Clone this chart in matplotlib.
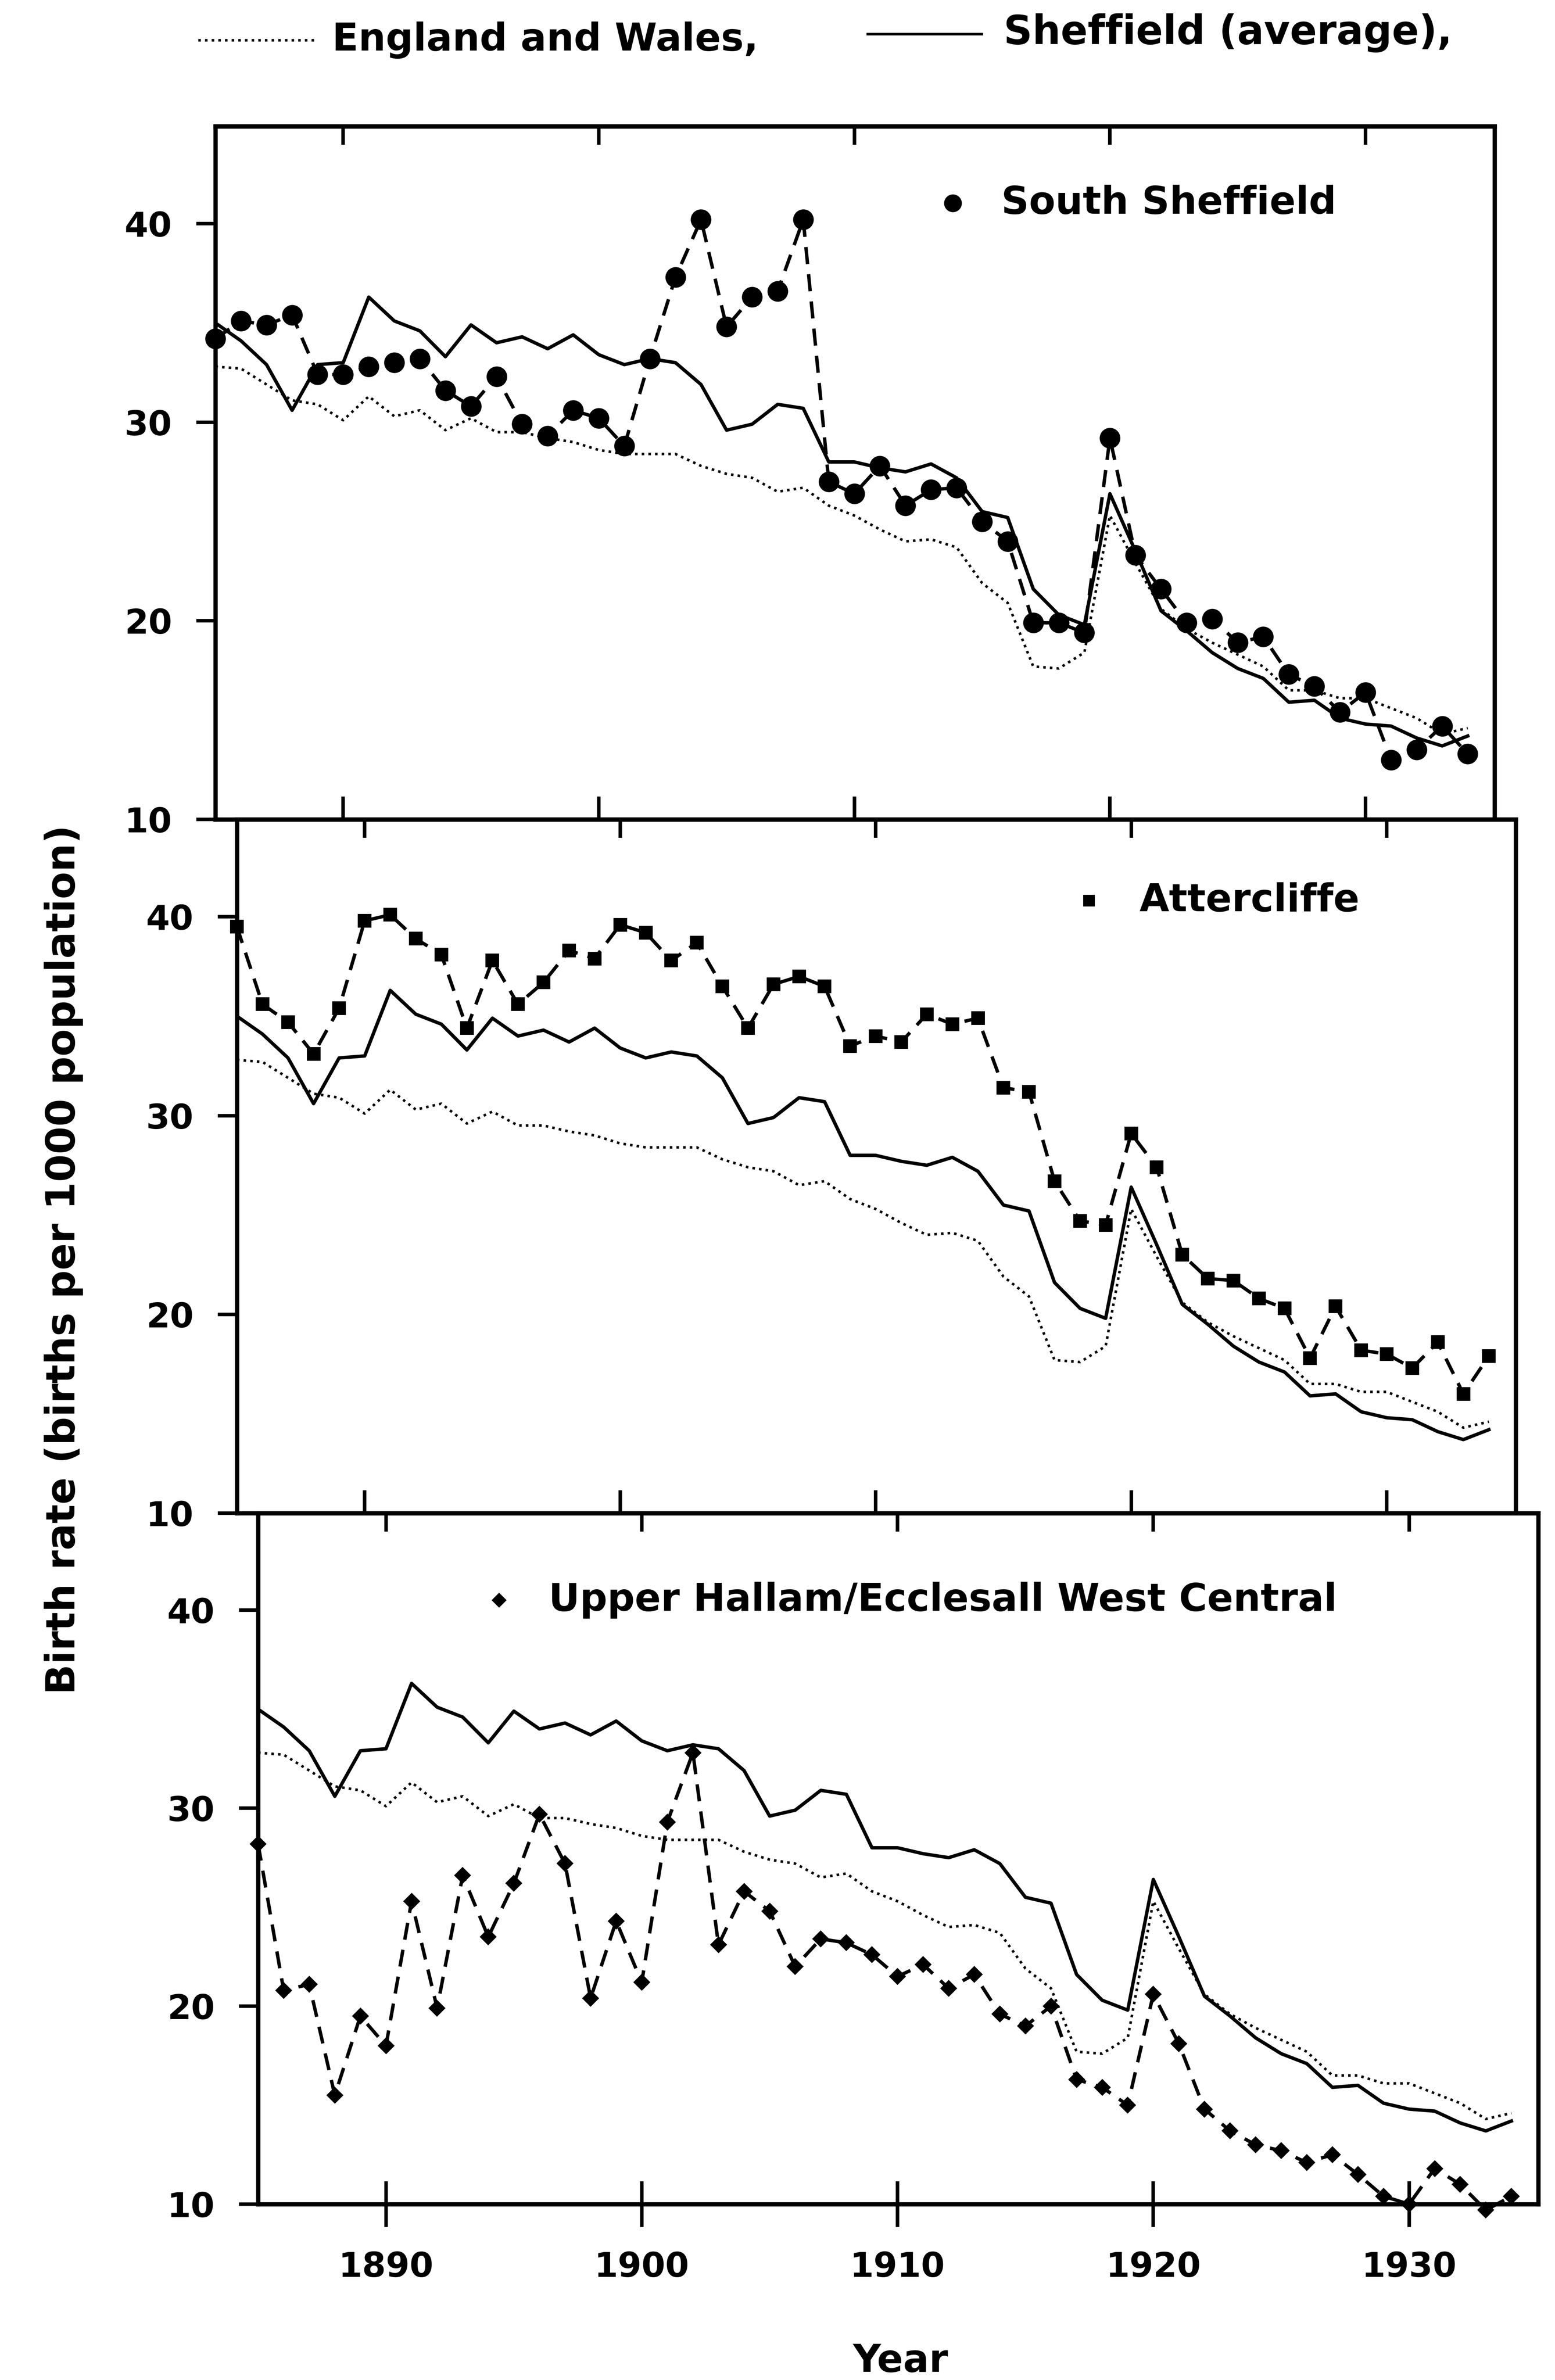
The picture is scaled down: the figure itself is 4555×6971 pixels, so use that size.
import numpy as np
import matplotlib.pyplot as plt
from matplotlib.lines import Line2D

plt.rcParams['font.family'] = 'DejaVu Sans'
plt.rcParams['font.weight'] = 'bold'

# birth rates per 1000 population, one value per year 1885..1934
years = np.arange(1885, 1935)

england_wales = [32.8, 32.7, 31.9, 31.1, 30.9, 30.1, 31.3, 30.3, 30.6, 29.6,
                 30.2, 29.5, 29.5, 29.2, 29.0, 28.6, 28.4, 28.4, 28.4, 27.8,
                 27.4, 27.2, 26.5, 26.7, 25.8, 25.3, 24.6, 24.0, 24.1, 23.7,
                 21.9, 20.9, 17.7, 17.6, 18.4, 25.3, 22.9, 20.6, 19.6, 18.9,
                 18.3, 17.7, 16.5, 16.5, 16.1, 16.1, 15.6, 15.1, 14.3, 14.6]

sheffield_avg = [35.0, 34.1, 32.9, 30.6, 32.9, 33.0, 36.3, 35.1, 34.6, 33.3,
                 34.9, 34.0, 34.3, 33.7, 34.4, 33.4, 32.9, 33.2, 33.0, 31.9,
                 29.6, 29.9, 30.9, 30.7, 28.0, 28.0, 27.7, 27.5, 27.9, 27.2,
                 25.5, 25.2, 21.6, 20.3, 19.8, 26.4, 23.5, 20.5, 19.5, 18.4,
                 17.6, 17.1, 15.9, 16.0, 15.1, 14.8, 14.7, 14.1, 13.7, 14.2]

south_sheffield = [34.2, 35.1, 34.9, 35.4, 32.4, 32.4, 32.8, 33.0, 33.2, 31.6,
                   30.8, 32.3, 29.9, 29.3, 30.6, 30.2, 28.8, 33.2, 37.3, 40.2,
                   34.8, 36.3, 36.6, 40.2, 27.0, 26.4, 27.8, 25.8, 26.6, 26.7,
                   25.0, 24.0, 19.9, 19.9, 19.4, 29.2, 23.3, 21.6, 19.9, 20.1,
                   18.9, 19.2, 17.3, 16.7, 15.4, 16.4, 13.0, 13.5, 14.7, 13.3]

attercliffe = [39.5, 35.6, 34.7, 33.1, 35.4, 39.8, 40.1, 38.9, 38.1, 34.4,
               37.8, 35.6, 36.7, 38.3, 37.9, 39.6, 39.2, 37.8, 38.7, 36.5,
               34.4, 36.6, 37.0, 36.5, 33.5, 34.0, 33.7, 35.1, 34.6, 34.9,
               31.4, 31.2, 26.7, 24.7, 24.5, 29.1, 27.4, 23.0, 21.8, 21.7,
               20.8, 20.3, 17.8, 20.4, 18.2, 18.0, 17.3, 18.6, 16.0, 17.9]

upper_hallam = [28.2, 20.8, 21.1, 15.5, 19.5, 18.0, 25.3, 19.9, 26.6, 23.5,
                26.2, 29.7, 27.2, 20.4, 24.3, 21.2, 29.3, 32.8, 23.1, 25.8,
                24.8, 22.0, 23.4, 23.2, 22.6, 21.5, 22.1, 20.9, 21.6, 19.6,
                19.0, 20.0, 16.3, 15.9, 15.0, 20.6, 18.1, 14.8, 13.7, 13.0,
                12.7, 12.1, 12.5, 11.5, 10.4, 10.0, 11.8, 11.0, 9.7, 10.4]

year_ticks = [1890, 1900, 1910, 1920, 1930]
rate_ticks = [10, 20, 30, 40]

W, H = 4555, 6971
fig = plt.figure(figsize=(W / 300, H / 300), dpi=300)


def box(left, top, right, bottom):
    # pixel edges -> figure fractions
    return [left / W, 1 - bottom / H, (right - left) / W, (bottom - top) / H]


panels = [
    (box(631, 370, 4378, 2400), south_sheffield, 'o', 13.5, 'South Sheffield', 0.5765, 0.889, 0.6144),
    (box(694, 2400, 4440, 4432), attercliffe, 's', 8.5, 'Attercliffe', 0.6663, 0.883, 0.7058),
    (box(756, 4432, 4506, 6456), upper_hallam, 'D', 7.5, 'Upper Hallam/Ecclesall West Central', 0.1883, 0.874, 0.2269),
]

for i, (pos, district, mk, ms, name, mx, my, tx) in enumerate(panels):
    ax = fig.add_axes(pos)
    ax.plot(years, england_wales, color='black', lw=1.8, dashes=(1, 1.6))
    ax.plot(years, sheffield_avg, color='black', lw=2.4)
    ax.plot(years, district, color='black', lw=2.4, dashes=(5, 3),
            marker=mk, ms=ms, mfc='black', mec='black', clip_on=False)

    ax.set_xlim(1885, 1935.05)
    ax.set_ylim(10, 44.9)
    ax.set_xticks(year_ticks)
    ax.set_yticks(rate_ticks)
    for s in ax.spines.values():
        s.set_linewidth(3)

    ax.tick_params(axis='y', direction='out', length=13.5, width=2.5,
                   labelsize=24, pad=17)
    ax.tick_params(axis='x', direction='inout', length=32, width=2.5,
                   labelsize=24, pad=17, labelbottom=(i == 2))
    top = ax.secondary_xaxis('top')
    top.set_xticks(year_ticks)
    top.tick_params(direction='in', length=13, width=2.5, labeltop=False)
    top.spines['top'].set_linewidth(3)

    # panel key
    ax.plot([mx], [my], marker=mk, ms=ms * 0.85, color='black',
            transform=ax.transAxes, clip_on=False)
    ax.text(tx, my, name, transform=ax.transAxes, ha='left', va='center',
            fontsize=27)

# key for the two reference lines at the top
fig.add_artist(Line2D([581 / W, 924 / W], [1 - 118 / H, 1 - 118 / H],
                      color='black', lw=1.8, dashes=(1, 1.6)))
fig.text(973 / W, 1 - 117 / H, 'England and Wales,', ha='left', va='center',
         fontsize=27)
fig.add_artist(Line2D([2542 / W, 2876 / W], [1 - 100 / H, 1 - 100 / H],
                      color='black', lw=1.8))
fig.text(2940 / W, 1 - 97 / H, 'Sheffield (average),', ha='left', va='center',
         fontsize=28)

fig.text(187 / W, 1 - 3690 / H, 'Birth rate (births per 1000 population)',
         rotation=90, ha='center', va='center', fontsize=28)
fig.text(2638 / W, 1 - 6916 / H, 'Year', ha='center', va='center', fontsize=27)

fig.savefig('out.png', dpi=300)
